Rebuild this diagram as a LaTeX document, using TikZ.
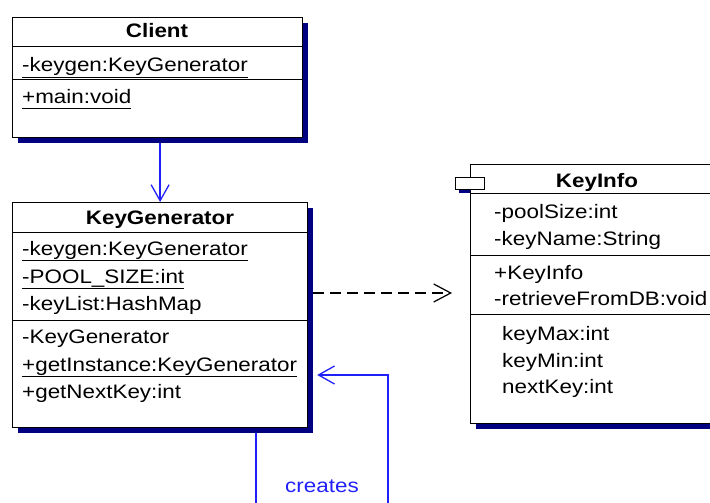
\documentclass[tikz,border=0pt]{standalone}
\usepackage{fontspec}
\setmainfont[FakeStretch=1.15]{Liberation Sans}
\usetikzlibrary{positioning,arrows.meta,shadows}

\definecolor{umlblue}{RGB}{32,32,250}
\definecolor{umlshadow}{RGB}{0,0,128}

\newcommand{\ustatic}[1]{\underline{\vphantom{gy}#1}}

\tikzset{
  classbox/.style={draw, line width=1.2pt, fill=white, inner sep=0pt, anchor=north west,
    drop shadow={fill=umlshadow, opacity=1, shadow xshift=5pt, shadow yshift=-5pt}},
  classname/.style={anchor=base, inner sep=0pt, font=\fontsize{19.5}{23}\selectfont\bfseries},
  member/.style={anchor=base west, inner sep=0pt},
  assoc/.style={draw=umlblue, line width=1.3pt, -{Straight Barb[length=16pt,width=18pt]}},
  depend/.style={line width=1.2pt, dash pattern=on 11pt off 6pt, -{Straight Barb[length=17pt,width=18pt]}},
}

\begin{document}
\begin{tikzpicture}[x=1pt, y=-1pt, font=\fontsize{19.5}{23}\selectfont]
		\clip (0,0) rectangle (710,503);
		
		\node[classbox, minimum width=290pt, minimum height=120pt] (client) at (12,17) {};
		\draw[line width=1pt] (12,47) -- (302,47);
		\draw[line width=1pt] (12,80) -- (302,80);
		\node[classname] (clientname) at (157,38) {Client};
		\node[member] (clientkeygen) at (22,72) {\ustatic{-keygen:KeyGenerator}};
		\node[member] (clientmain) at (22,103) {\ustatic{+main:void}};
		
		\node[classbox, minimum width=295pt, minimum height=225pt] (keygen) at (12,202) {};
		\draw[line width=1pt] (12,232) -- (307,232);
		\draw[line width=1pt] (12,320) -- (307,320);
		\node[classname] (keygenname) at (160,224) {KeyGenerator};
		\node[member] (kgkeygen) at (22,255) {\ustatic{-keygen:KeyGenerator}};
		\node[member] (kgpoolsize) at (22,283) {\ustatic{-POOL\_SIZE:int}};
		\node[member] (kgkeylist) at (22,310) {-keyList:HashMap};
		\node[member] (kgconstr) at (22,343) {-KeyGenerator};
		\node[member] (kginstance) at (22,371) {\ustatic{+getInstance:KeyGenerator}};
		\node[member] (kgnextkey) at (22,398) {+getNextKey:int};
		
		\fill[umlshadow] (459,181) rectangle ++(29,12);
		\node[classbox, minimum width=254pt, minimum height=259pt] (keyinfo) at (470,164) {};
		\node[draw, line width=1.2pt, fill=white, inner sep=0pt, anchor=north west,
			minimum width=29pt, minimum height=12pt] (keyinfotab) at (455,177) {};
		\draw[line width=1pt] (470,193) -- (724,193);
		\draw[line width=1pt] (470,255) -- (724,255);
		\draw[line width=1pt] (470,314) -- (724,314);
		\node[classname] (keyinfoname) at (597,187) {KeyInfo};
		\node[member] (kipoolsize) at (494,218) {-poolSize:int};
		\node[member] (kikeyname) at (494,245) {-keyName:String};
		\node[member] (kiconstr) at (494,279) {+KeyInfo};
		\node[member] (kiretrieve) at (494,305) {-retrieveFromDB:void};
		\node[member] (kikeymax) at (502,340) {keyMax:int};
		\node[member] (kikeymin) at (502,367) {keyMin:int};
		\node[member] (kinextkey) at (502,393) {nextKey:int};
		
		\draw[assoc, shorten <=5pt] (client.south -| keygen.north) -- (keygen.north);
		
		\coordinate (dep) at (0,293);
		\draw[depend, shorten <=5pt, shorten >=18pt] (keygen.east |- dep) -- (keyinfo.west |- dep);
		
		\coordinate (loopleft) at (256,510);
		\coordinate (loopright) at (388,375);
		\draw[assoc, shorten <=5pt, shorten >=9pt] (keygen.south -| loopleft) -- (loopleft)
			-| node[pos=.25, above=17pt, text=umlblue, inner sep=0pt] (createslabel) {creates} (loopright)
			-- (keygen.east |- loopright);
	\end{tikzpicture}
\end{document}
